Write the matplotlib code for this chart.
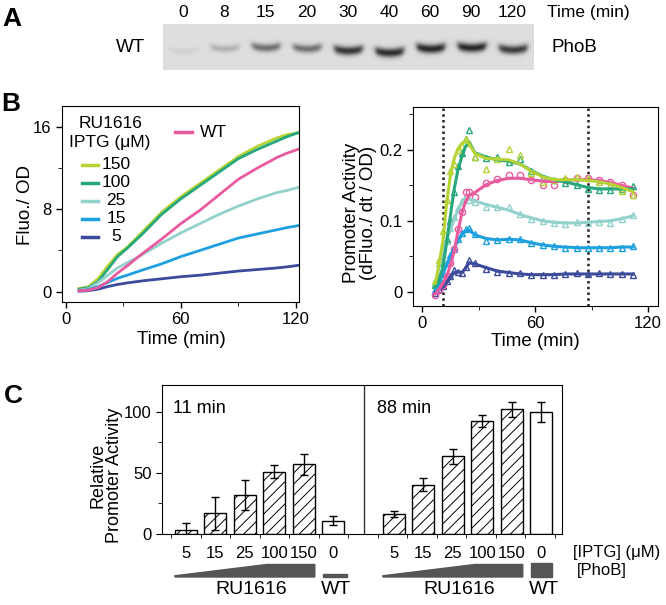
import numpy as np
import matplotlib
matplotlib.use('Agg')
import matplotlib.pyplot as plt
from matplotlib.patches import Polygon, Rectangle
from matplotlib.transforms import blended_transform_factory

plt.rcParams['font.family'] = ['Liberation Sans', 'DejaVu Sans']
plt.rcParams['hatch.linewidth'] = 0.7
plt.rcParams['hatch.color'] = '#333333'

# ---- panel A: western blot (band darkness read per lane) ----
lane_labels = ['0', '8', '15', '20', '30', '40', '60', '90', '120']
band_strength = [0.06, 0.22, 0.55, 0.55, 0.85, 0.9, 0.92, 0.92, 0.82]
band_y_px = [51.7, 49, 48, 49, 51, 53, 49, 48, 50]

# ---- panel B left: Fluo./OD ----
strains = ['150', '100', '25', '15', '5', 'WT']
colors = {'150': '#b5d334', '100': '#27a77c', '25': '#92d1cc',
          '15': '#1d9fe0', '5': '#3c4a9c', 'WT': '#ea5a9e'}
t_fluo = [7, 12, 17, 22, 27, 32, 40, 50, 60, 70, 80, 90, 100, 110, 115, 121]
fluo = {
    '150': [0.3, 0.5, 1.3, 2.5, 3.6, 4.3, 5.8, 7.7, 9.2, 10.5, 11.8, 13.1, 14.1, 14.9, 15.2, 15.4],
    '100': [0.25, 0.4, 1.0, 2.2, 3.4, 4.2, 5.6, 7.5, 9.0, 10.3, 11.6, 12.9, 13.8, 14.6, 15.0, 15.4],
    '25':  [0.15, 0.3, 0.9, 1.6, 2.3, 2.8, 3.6, 4.7, 5.7, 6.6, 7.5, 8.3, 9.0, 9.6, 9.8, 10.1],
    '15':  [0.1, 0.2, 0.5, 0.9, 1.3, 1.6, 2.1, 2.7, 3.4, 4.0, 4.6, 5.2, 5.6, 6.0, 6.2, 6.4],
    '5':   [0.05, 0.1, 0.25, 0.5, 0.7, 0.85, 1.05, 1.25, 1.45, 1.6, 1.8, 2.0, 2.15, 2.3, 2.4, 2.55],
    'WT':  [0.1, 0.15, 0.4, 1.0, 1.8, 2.5, 3.7, 5.1, 6.6, 7.9, 9.4, 10.9, 12.0, 13.0, 13.4, 13.8],
}

# ---- panel B right: promoter activity (smoothed fit + measured points) ----
t_act = [7, 9, 11, 13, 15, 17, 19, 21, 23, 25, 28, 34, 40, 46, 52, 58, 64, 70, 76, 82, 88, 94, 100, 106, 112]
act_fit = {
    '150': [0.012, 0.040, 0.072, 0.125, 0.165, 0.188, 0.202, 0.209, 0.213, 0.208, 0.195, 0.188, 0.187,
            0.186, 0.180, 0.170, 0.162, 0.158, 0.158, 0.158, 0.157, 0.155, 0.152, 0.147, 0.141],
    '100': [0.007, 0.018, 0.034, 0.070, 0.108, 0.145, 0.172, 0.190, 0.205, 0.210, 0.196, 0.190, 0.186,
            0.184, 0.180, 0.171, 0.163, 0.158, 0.155, 0.151, 0.147, 0.145, 0.145, 0.145, 0.145],
    '25':  [0.010, 0.035, 0.058, 0.075, 0.088, 0.102, 0.115, 0.126, 0.132, 0.131, 0.128, 0.123, 0.119,
            0.115, 0.109, 0.104, 0.100, 0.098, 0.097, 0.097, 0.098, 0.099, 0.100, 0.103, 0.107],
    '15':  [0.002, 0.012, 0.025, 0.038, 0.050, 0.062, 0.072, 0.080, 0.086, 0.087, 0.080, 0.075, 0.073,
            0.074, 0.073, 0.069, 0.066, 0.064, 0.063, 0.062, 0.062, 0.062, 0.062, 0.063, 0.063],
    '5':   [0.000, 0.003, 0.007, 0.013, 0.020, 0.027, 0.028, 0.027, 0.033, 0.041, 0.039, 0.034, 0.029,
            0.027, 0.025, 0.024, 0.024, 0.024, 0.025, 0.025, 0.025, 0.025, 0.025, 0.025, 0.025],
    'WT':  [-0.003, 0.004, 0.012, 0.022, 0.037, 0.058, 0.085, 0.110, 0.127, 0.136, 0.140, 0.151, 0.157,
            0.160, 0.160, 0.158, 0.156, 0.155, 0.157, 0.158, 0.158, 0.157, 0.154, 0.150, 0.146],
}
act_pts = {
    '150': [0.015, 0.045, 0.085, 0.130, 0.170, 0.180, 0.200, 0.205, 0.215, 0.210, 0.190, 0.173, 0.187,
            0.201, 0.193, 0.168, 0.155, 0.157, 0.160, 0.162, 0.160, 0.155, 0.150, 0.142, 0.137],
    '100': [0.010, 0.020, 0.040, 0.075, 0.100, 0.140, 0.178, 0.195, 0.215, 0.228, 0.190, 0.188, 0.190,
            0.183, 0.187, 0.170, 0.160, 0.157, 0.154, 0.150, 0.145, 0.143, 0.144, 0.145, 0.149],
    '25':  [0.012, 0.040, 0.062, 0.072, 0.090, 0.105, 0.118, 0.128, 0.135, 0.130, 0.126, 0.120, 0.120,
            0.119, 0.110, 0.102, 0.100, 0.097, 0.096, 0.099, 0.097, 0.099, 0.097, 0.102, 0.108],
    '15':  [0.003, 0.014, 0.027, 0.040, 0.052, 0.060, 0.074, 0.083, 0.088, 0.090, 0.082, 0.072, 0.073,
            0.075, 0.074, 0.068, 0.066, 0.064, 0.062, 0.062, 0.061, 0.062, 0.062, 0.062, 0.064],
    '5':   [-0.002, 0.004, 0.008, 0.015, 0.022, 0.030, 0.028, 0.026, 0.035, 0.044, 0.040, 0.032, 0.028,
            0.026, 0.026, 0.024, 0.023, 0.023, 0.025, 0.026, 0.025, 0.026, 0.025, 0.025, 0.024],
    'WT':  [-0.004, 0.003, 0.010, 0.022, 0.040, 0.060, 0.088, 0.112, 0.140, 0.140, 0.134, 0.153, 0.159,
            0.165, 0.165, 0.158, 0.150, 0.150, 0.158, 0.161, 0.160, 0.158, 0.155, 0.151, 0.137],
}
snapshot_times = [11, 88]

# ---- panel C: relative promoter activity ----
iptg_labels = ['5', '15', '25', '100', '150', '0']
rel_11 = [3, 17, 32, 51, 57, 11]
err_11 = [6, 13.5, 12, 5.5, 8.5, 3.7]
rel_88 = [16.5, 40.5, 63.5, 92.5, 102, 100]
err_88 = [2.6, 5.7, 5.8, 4.8, 6.3, 8.3]

W, H = 666, 605


def box(l, t, r, b):
    return [l / W, 1 - b / H, (r - l) / W, (b - t) / H]


fig = plt.figure(figsize=(W / 100, H / 100), dpi=100)

# ---------------- A ----------------
axA = fig.add_axes(box(162.7, 24, 533, 70))
nx, ny = 740, 92
xs = np.linspace(0, len(lane_labels), nx)
ys = np.linspace(1, 0, ny)
X, Y = np.meshgrid(xs, ys)
img = np.full_like(X, 0.87)
for i, (a, py) in enumerate(zip(band_strength, band_y_px)):
    c = i + 0.5
    yc = (70 - py) / 46 + 0.07 * ((X - c) / 0.4) ** 2
    px = 1 / (1 + np.exp((np.abs(X - c) - 0.34) / 0.035))
    sy = 0.07 + 0.03 * a
    img -= 0.78 * a * px * np.exp(-((Y - yc) / sy) ** 2)
axA.imshow(img, cmap='gray', vmin=0, vmax=1, extent=(0, len(lane_labels), 0, 1),
           aspect='auto', interpolation='bilinear')
axA.set_xlim(0, len(lane_labels))
axA.set_ylim(0, 1)
axA.axis('off')
for i, lab in enumerate(lane_labels):
    axA.text(i + 0.5, 1.24, lab, ha='center', va='center', fontsize=12.5, clip_on=False)
axA.text(9.35, 1.24, 'Time (min)', ha='left', va='center', fontsize=12.5, clip_on=False)
axA.text(9.45, 0.48, 'PhoB', ha='left', va='center', fontsize=13.5, clip_on=False)
axA.text(-0.43, 0.5, 'WT', ha='right', va='center', fontsize=13.5, clip_on=False)

fig.text(12 / W, 1 - 19 / H, 'A', fontsize=19, fontweight='bold', ha='center', va='center')
fig.text(11 / W, 1 - 104 / H, 'B', fontsize=19, fontweight='bold', ha='center', va='center')
fig.text(13 / W, 1 - 396 / H, 'C', fontsize=19, fontweight='bold', ha='center', va='center')

# ---------------- B left ----------------
ax1 = fig.add_axes(box(61.7, 106, 299, 301.7))
for s in strains:
    ax1.plot(t_fluo, fluo[s], color=colors[s], lw=2)
ax1.set_xlim(-2.1, 121.6)
ax1.set_ylim(-0.97, 18)
ax1.set_xticks([0, 60, 120])
ax1.set_xticks([30, 90], minor=True)
ax1.set_yticks([0, 8, 16])
ax1.set_yticks([4, 12], minor=True)
ax1.tick_params(direction='out', labelsize=12, length=4, width=1)
ax1.tick_params(which='minor', direction='out', length=3)
fig.text(181 / W, 1 - 339 / H, 'Time (min)', ha='center', va='center', fontsize=13.5)
fig.text(25 / W, 1 - 205 / H, 'Fluo./ OD', rotation=90, ha='center', va='center', fontsize=13.5)

ax1.text(0.204, 0.913, 'RU1616', transform=ax1.transAxes, ha='center', va='center', fontsize=12.5)
ax1.text(0.204, 0.811, 'IPTG (\u03bcM)', transform=ax1.transAxes, ha='center', va='center', fontsize=12.5)
for k, s in enumerate(strains[:5]):
    yy = 0.699 - k * 0.092
    ax1.plot([0.086, 0.153], [yy, yy], color=colors[s], lw=2.5, transform=ax1.transAxes)
    ax1.text(0.229, yy, s, transform=ax1.transAxes, ha='center', va='center', fontsize=12.5)
ax1.plot([0.476, 0.55], [0.867, 0.867], color=colors['WT'], lw=2.5, transform=ax1.transAxes)
ax1.text(0.583, 0.867, 'WT', transform=ax1.transAxes, ha='left', va='center', fontsize=12.5)

# ---------------- B right ----------------
ax2 = fig.add_axes(box(413, 106.7, 658, 306))
for tt in snapshot_times:
    ax2.axvline(tt, color='#222222', lw=1.8, ls=(0, (1.0, 1.3)), zorder=1)
for s in ['5', '15', '25', 'WT', '100', '150']:
    mk = 'o' if s == 'WT' else '^'
    ax2.plot(t_act, act_pts[s], ls='none', marker=mk, ms=4.5, mfc='none', mec=colors[s], mew=1, zorder=2)
for s in ['5', '15', '25', 'WT', '100', '150']:
    ax2.plot(t_act, act_fit[s], color=colors[s], lw=2.2, zorder=3)
ax2.set_xlim(-4.9, 125.3)
ax2.set_ylim(-0.0202, 0.261)
ax2.set_xticks([0, 60, 120])
ax2.set_xticks([30, 90], minor=True)
ax2.set_yticks([0, 0.1, 0.2])
ax2.set_yticklabels(['0', '0.1', '0.2'])
ax2.set_yticks([0.05, 0.15, 0.25], minor=True)
ax2.tick_params(direction='out', labelsize=12, length=4, width=1)
ax2.tick_params(which='minor', direction='out', length=3)
fig.text(535 / W, 1 - 341 / H, 'Time (min)', ha='center', va='center', fontsize=13.5)
fig.text(360 / W, 1 - 213 / H, 'Promoter Activity\n(dFluo./ dt / OD)', rotation=90,
         ha='center', va='center', fontsize=13.5, linespacing=1.0, multialignment='center')

# ---------------- C ----------------
ax3 = fig.add_axes(box(162, 385, 562, 534))
pos_l = np.arange(len(iptg_labels))
pos_r = np.arange(len(iptg_labels)) + 7.05
bw = 0.74
for pos, vals, errs in [(pos_l, rel_11, err_11), (pos_r, rel_88, err_88)]:
    ax3.bar(pos[:5], vals[:5], width=bw, color='white', edgecolor='black', lw=1, hatch='///', zorder=2)
    ax3.bar(pos[5:], vals[5:], width=bw, color='white', edgecolor='black', lw=1, zorder=2)
    ax3.errorbar(pos, vals, yerr=errs, fmt='none', ecolor='black', elinewidth=1,
                 capsize=3, capthick=1, zorder=3)
ax3.axvline(6.03, color='#333333', lw=1)
ax3.text(-0.44, 103, '11 min', ha='left', va='center', fontsize=13)
ax3.text(6.49, 103, '88 min', ha='left', va='center', fontsize=13)
ax3.set_xticks(np.concatenate([pos_l, pos_r]))
ax3.set_xticklabels(iptg_labels * 2)
ax3.set_xticks(np.arange(-0.5, 13, 1.0), minor=True)
ax3.tick_params(axis='x', which='major', length=0, pad=9, labelsize=12)
ax3.tick_params(axis='x', which='minor', direction='out', length=3)
ax3.set_yticks([0, 50, 100])
ax3.set_yticks([25, 75], minor=True)
ax3.tick_params(axis='y', which='major', direction='out', length=4, labelsize=12)
ax3.tick_params(axis='y', which='minor', direction='out', length=3)
fig.text(106 / W, 1 - 475 / H, 'Relative\nPromoter Activity', rotation=90, ha='center',
         va='center', fontsize=13, linespacing=1.0, multialignment='center')
fig.text(573 / W, 1 - 553 / H, '[IPTG] (\u03bcM)', ha='left', va='center', fontsize=12)
fig.text(577 / W, 1 - 571 / H, '[PhoB]', ha='left', va='center', fontsize=12)

# PhoB level wedges under the bars
tr = blended_transform_factory(ax3.transData, fig.transFigure)
yb, yt = 1 - 577 / H, 1 - 564.5 / H
for p in (pos_l, pos_r):
    x0, x1 = p[0] - bw / 2, p[4] + bw / 2
    ax3.add_patch(Polygon([(x0, yb), (x0, yb + 0.002), (p[0] + 2.74, yt), (x1, yt), (x1, yb)],
                          closed=True, color='#555555', transform=tr, clip_on=False))
ax3.add_patch(Rectangle((pos_l[5] - 0.36, yb), 0.82, 3 / H, color='#555555', transform=tr, clip_on=False))
ax3.add_patch(Rectangle((pos_r[5] - 0.36, yb), 0.72, 14 / H, color='#555555', transform=tr, clip_on=False))
for p in (pos_l, pos_r):
    ax3.text(p[2] + 0.2, 1 - 590 / H, 'RU1616', transform=tr, ha='center', va='center', fontsize=14)
    ax3.text(p[5] + 0.08, 1 - 590 / H, 'WT', transform=tr, ha='center', va='center', fontsize=14)

ax3.set_xlim(-0.81, 12.75)
ax3.set_ylim(0, 122)

fig.savefig('out.png', dpi=100)
